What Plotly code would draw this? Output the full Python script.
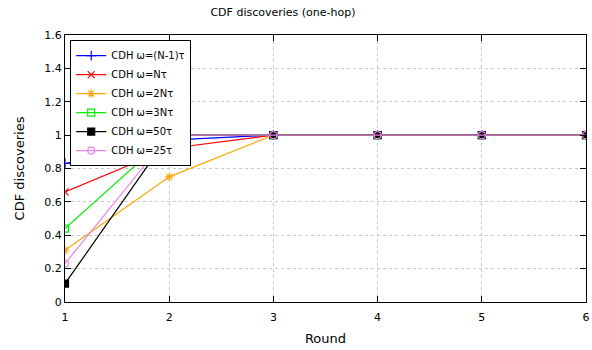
import plotly.graph_objects as go

rounds = [1, 2, 3, 4, 5, 6]
names = ["CDH ω=(N-1)τ", "CDH ω=Nτ", "CDH ω=2Nτ", "CDH ω=3Nτ", "CDH ω=50τ", "CDH ω=25τ"]
s_n1 = [0.83, 0.97, 1, 1, 1, 1]
s_n = [0.66, 0.92, 1, 1, 1, 1]
s_2n = [0.31, 0.75, 1, 1, 1, 1]
s_3n = [0.44, 1, 1, 1, 1, 1]
s_50 = [0.11, 1, 1, 1, 1, 1]
s_25 = [0.23, 1, 1, 1, 1, 1]
series = [s_n1, s_n, s_2n, s_3n, s_50, s_25]
colors = ["#0000ff", "#ff0000", "#ffa500", "#00ee00", "#000000", "#ee82ee"]
symbols = ["cross-thin", "x-thin", "asterisk-open", "square-open", "square", "circle-open"]

fig = go.Figure()
for nm, ys, c, sym in zip(names, series, colors, symbols):
    fig.add_trace(go.Scatter(
        x=rounds, y=ys, name=nm, mode="lines+markers",
        line=dict(color=c, width=1.2),
        marker=dict(symbol=sym, size=7, color=c, line=dict(color=c, width=1.2)),
    ))

fam = "DejaVu Sans"
font = dict(family=fam, size=11, color="#000000")
fig.update_layout(
    width=592, height=350,
    margin=dict(l=65, r=6, t=35, b=48, autoexpand=False),
    paper_bgcolor="white", plot_bgcolor="white",
    font=font,
    title=dict(text="CDF discoveries (one-hop)", x=0.478, xanchor="center", y=0.966, yanchor="middle",
               font=dict(family=fam, size=11)),
    showlegend=True,
    legend=dict(x=0.01, y=0.981, xanchor="left", yanchor="top",
                bordercolor="#000000", borderwidth=1, bgcolor="white",
                font=dict(family=fam, size=10), tracegroupgap=0,
                itemwidth=30),
)
fig.update_xaxes(
    range=[1, 6], tickvals=rounds, ticktext=[str(r) for r in rounds],
    showline=True, linecolor="black", linewidth=1, mirror="ticks",
    ticks="inside", ticklen=6, tickcolor="black", ticklabelstandoff=5,
    showgrid=True, gridcolor="#c8c8c8", griddash="dot", gridwidth=1,
    zeroline=False, automargin=False, title=dict(text="Round", standoff=10),
)
fig.update_yaxes(
    range=[0, 1.6], tickvals=[0, 0.2, 0.4, 0.6, 0.8, 1, 1.2, 1.4, 1.6],
    ticktext=["0", "0.2", "0.4", "0.6", "0.8", "1", "1.2", "1.4", "1.6"],
    showline=True, linecolor="black", linewidth=1, mirror="ticks",
    ticks="inside", ticklen=6, tickcolor="black",
    showgrid=True, gridcolor="#c8c8c8", griddash="dot", gridwidth=1,
    zeroline=False, automargin=False, title=dict(text="CDF discoveries", standoff=16),
)
fig.write_html("out.html", config={"displayModeBar": False},
               post_script="document.body.style.margin='0';document.body.style.overflow='hidden';")
